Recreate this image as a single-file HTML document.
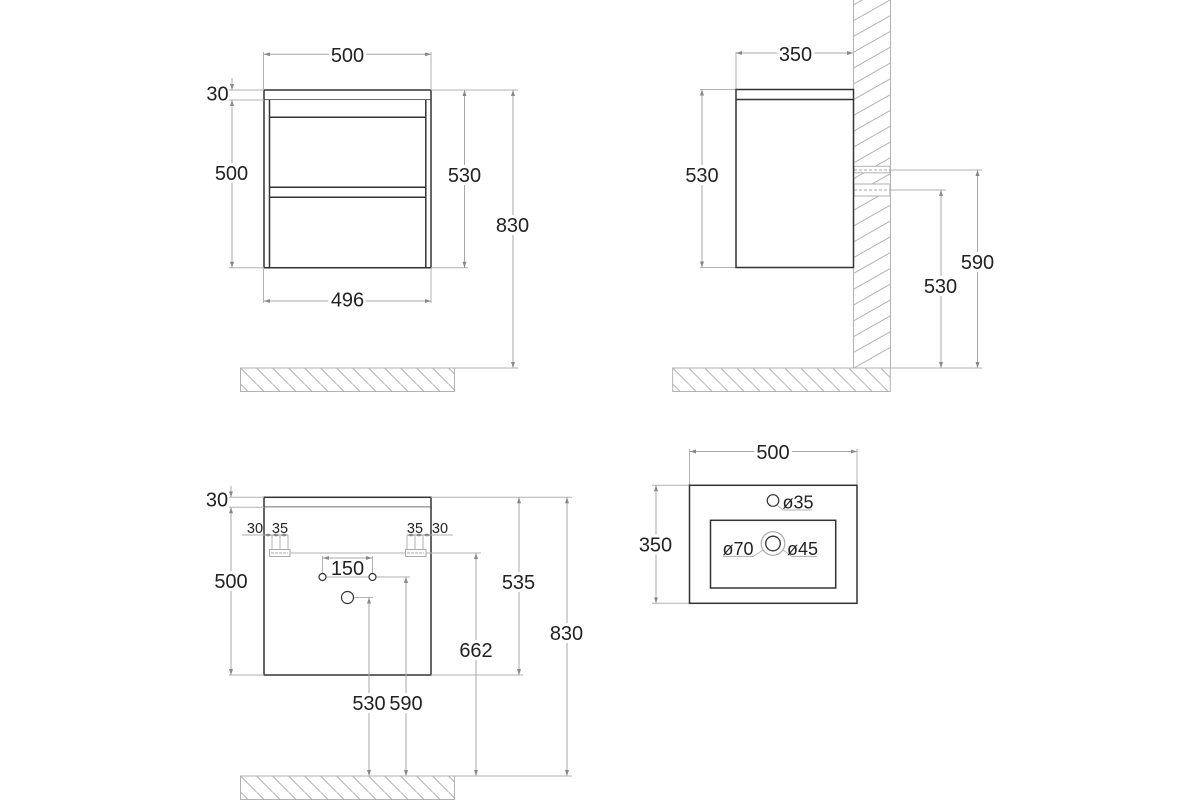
<!DOCTYPE html>
<html><head><meta charset="utf-8"><style>
html,body{margin:0;padding:0;background:#fff}
svg{display:block;filter:blur(.3px)}
text{font-family:"Liberation Sans",sans-serif;font-size:20px;fill:#222;text-anchor:middle;dominant-baseline:central;paint-order:stroke;stroke:#fff;stroke-width:6px;transform:translateY(1px)}
text.s{font-size:14.5px;stroke-width:0}
text.n{stroke-width:0}
.g{fill:none;stroke:#b2b2b2;stroke-width:1}
.d{stroke:#a8a8a8;stroke-width:1;fill:none;marker-start:url(#a);marker-end:url(#a)}
.e{stroke:#a8a8a8;stroke-width:1;fill:none;marker-end:url(#a)}
.t{stroke:#a8a8a8;stroke-width:.8;fill:none;marker-start:url(#b);marker-end:url(#b)}
.k{fill:#fff;stroke:#333;stroke-width:1.5}
.h{fill:url(#hp);stroke:#b2b2b2;stroke-width:1}
</style></head><body>
<svg width="1200" height="800" viewBox="0 0 1200 800" xmlns="http://www.w3.org/2000/svg">
<defs>
<marker id="a" viewBox="0 0 6 4" refX="6" refY="2" markerWidth="6" markerHeight="4" markerUnits="userSpaceOnUse" orient="auto-start-reverse"><path d="M0 0L6 2L0 4z" fill="#888"/></marker>
<marker id="b" viewBox="0 0 4 3" refX="4" refY="1.5" markerWidth="4" markerHeight="3" markerUnits="userSpaceOnUse" orient="auto-start-reverse"><path d="M0 0L4 1.5L0 3z" fill="#888"/></marker>
<pattern id="hp" width="16" height="16" patternUnits="userSpaceOnUse"><path d="M-1 -1L17 17" stroke="#b2b2b2" stroke-width="1" fill="none"/></pattern>
<clipPath id="w"><rect x="853.5" y="0" width="37" height="368"/></clipPath>
</defs>

<!-- View 1 -->
<rect class="k" x="264" y="90" width="167" height="10"/>
<path class="k" d="M264 100V267.7H431V100"/>
<path class="k" style="fill:none" d="M269.5 100V267.7M425.8 100V267.7M269.5 117.3H425.8M269.5 187.3H425.8M269.5 197.3H425.8"/>
<path class="g" d="M263.5 52V90M431 52V90M229 90H264M229 100H264M431 90H518M431 267.7H468M229 267.7H264M263.5 268V303M431 268V303M431 368H518"/>
<path class="d" d="M264 54.3H431"/>
<path class="e" d="M232 78V90"/>
<path class="d" d="M232 100V267.7"/>
<path class="d" d="M464.5 90V267.7"/>
<path class="d" d="M513 90V368"/>
<path class="d" d="M264 301H431"/>
<text x="347.5" y="55">500</text>
<text class="n" x="217.5" y="93.5">30</text>
<text x="231.5" y="173">500</text>
<text x="464.5" y="175">530</text>
<text x="512.5" y="225">830</text>
<text x="347.5" y="299.5">496</text>
<g transform="translate(240.5,368)"><rect class="h" width="214" height="23.5"/></g>

<!-- View 2 -->
<rect x="853.5" y="0" width="37" height="368" fill="#fff"/>
<path clip-path="url(#w)" class="g" d="M853.5 4.9l37 -21M853.5 20.7l37 -21M853.5 36.5l37 -21M853.5 52.3l37 -21M853.5 68.1l37 -21M853.5 83.9l37 -21M853.5 99.7l37 -21M853.5 115.5l37 -21M853.5 131.3l37 -21M853.5 147.1l37 -21M853.5 162.9l37 -21M853.5 178.7l37 -21M853.5 194.5l37 -21M853.5 210.3l37 -21M853.5 226.1l37 -21M853.5 241.9l37 -21M853.5 257.7l37 -21M853.5 273.5l37 -21M853.5 289.3l37 -21M853.5 305.1l37 -21M853.5 320.9l37 -21M853.5 336.7l37 -21M853.5 352.5l37 -21M853.5 368.3l37 -21"/>
<rect x="854" y="166.3" width="36" height="6.5" fill="#fff" stroke="#b2b2b2"/>
<rect x="854" y="184" width="36" height="12" fill="#fff" stroke="#b2b2b2"/>
<path d="M854 170H890M854 190H890" stroke="#aaa" stroke-dasharray="3 2" fill="none"/>
<path class="g" d="M853.5 0V368M890.5 0V368"/>
<path class="g" d="M736 52V90M700 89.5H736M700 267.5H736M890 170H982M890 190H946M890 368H982"/>
<path class="d" d="M736 53H853"/>
<path class="d" d="M702 89.5V267.5"/>
<path class="d" d="M977.5 170V368"/>
<path class="d" d="M941 190V368"/>
<rect class="k" x="736" y="89.5" width="117.5" height="178"/>
<path class="k" d="M736 99.5H853.5"/>
<text x="795.5" y="54">350</text>
<text x="702" y="175">530</text>
<text x="977.5" y="262">590</text>
<text x="940.5" y="286">530</text>
<g transform="translate(672.7,368)"><rect class="h" width="217.6" height="23.5"/></g>

<!-- View 3 -->
<rect class="k" x="264" y="497.3" width="167" height="10"/>
<path class="k" d="M264 507.3V675H431V507.3"/>
<rect x="269.5" y="549.5" width="20.5" height="7" fill="#fff" stroke="#aaa"/>
<rect x="405.5" y="549.5" width="20.5" height="7" fill="#fff" stroke="#aaa"/>
<path d="M271 553h17M407 553h17" stroke="#aaa" stroke-dasharray="3 1" fill="none"/>
<path class="g" d="M229 497.3H264M229 507.3H264M431 497.3H572M229 675H264M431 675H523M290 553H405M426 553H481M242 535H264M431 535H453M372.5 577H410M353.5 597.5H373M326 577H369M322.5 556V573.5M372.5 556V573.5"/>
<path class="g" d="M272 535V549M280 535V549M288 535V549M407 535V549M415 535V549M423 535V549"/>
<path class="e" d="M231 486V497.3"/>
<path class="d" d="M231 507.3V675"/>
<path class="d" d="M519 497.3V675"/>
<path class="d" d="M567 497.3V776"/>
<path class="d" d="M476 553V776"/>
<path class="d" d="M406 577V776"/>
<path class="d" d="M369 597.5V776"/>
<path class="d" d="M323 558H372"/>
<path class="t" d="M264 535H272"/><path class="t" d="M272 535H280"/><path class="t" d="M280 535H288"/>
<path class="t" d="M407 535H415"/><path class="t" d="M415 535H423"/><path class="t" d="M423 535H431"/>
<circle cx="322.5" cy="577" r="3.5" fill="#fff" stroke="#333" stroke-width="1.2"/>
<circle cx="372.5" cy="577" r="3.5" fill="#fff" stroke="#333" stroke-width="1.2"/>
<circle cx="347.5" cy="597.5" r="6" fill="#fff" stroke="#333" stroke-width="1.2"/>
<text class="n" x="217" y="499.5">30</text>
<text x="231" y="581">500</text>
<text class="s" x="255" y="528">30</text>
<text class="s" x="280" y="528">35</text>
<text class="s" x="415" y="528">35</text>
<text class="s" x="440" y="528">30</text>
<text x="347.5" y="568" style="stroke-width:3px">150</text>
<text x="518.5" y="582">535</text>
<text x="566.5" y="633">830</text>
<text x="476" y="650">662</text>
<text x="369" y="703">530</text>
<text x="406" y="703">590</text>
<g transform="translate(240.5,776)"><rect class="h" width="214" height="23.5"/></g>
<path class="g" d="M454 776H572"/>

<!-- View 4 -->
<path class="g" d="M689.5 449V485M857 449V485M652 485.3H689M652 603.3H689"/>
<path class="d" d="M690 451.5H857"/>
<path class="d" d="M656 485.3V603.3"/>
<rect class="k" x="689.5" y="485.3" width="167.5" height="118"/>
<rect class="k" x="710.5" y="520.3" width="125.2" height="67.7"/>
<circle cx="773" cy="500.5" r="5.8" fill="#fff" stroke="#333" stroke-width="1.2"/>
<circle cx="773" cy="543.5" r="11.8" fill="#fff" stroke="#aaa" stroke-width="1.2"/>
<circle cx="773" cy="543.5" r="7.3" fill="#fff" stroke="#333" stroke-width="1.3"/>
<path class="g" d="M777 505L783 510H812M723 556.5H753L763 550M783 550L792 556.5H817"/>
<text x="773" y="452">500</text>
<text x="655.5" y="544.5">350</text>
<text class="n" x="798" y="501.5" style="font-size:18px">ø35</text>
<text class="n" x="738" y="548" style="font-size:18px">ø70</text>
<text class="n" x="802.5" y="548" style="font-size:18px">ø45</text>
</svg>
</body></html>
